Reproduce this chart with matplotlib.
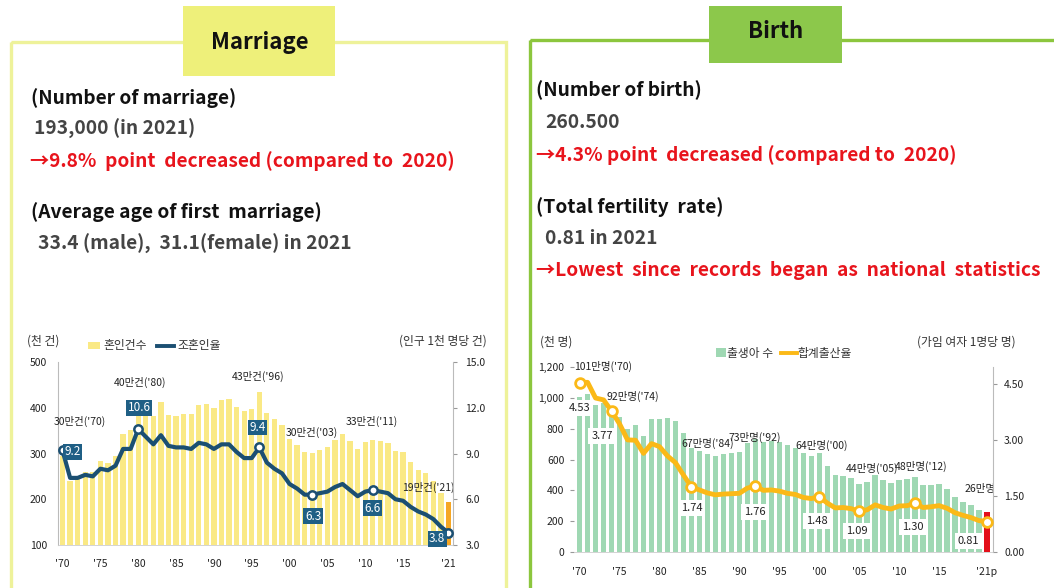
import numpy as np
import matplotlib
matplotlib.use("Agg")
import matplotlib.pyplot as plt
from matplotlib.patches import Rectangle
from matplotlib.lines import Line2D

plt.rcParams["font.family"] = ["Noto Sans CJK KR", "DejaVu Sans"]

# ---- data ----
years = list(range(1970, 2022))

marriages = [295, 239, 244, 259, 260, 283, 280, 295, 343, 351,
             403, 392, 382, 412, 384, 382, 386, 386, 407, 409,
             399, 416, 419, 402, 393, 398, 434, 389, 375, 362,
             332, 318, 304, 302, 308, 314, 330, 343, 327, 309,
             326, 329, 327, 323, 305, 303, 282, 264, 258, 239,
             214, 193]
marriage_rate = [9.2, 7.4, 7.4, 7.6, 7.5, 8.0, 7.9, 8.2, 9.3, 9.3,
                 10.6, 10.1, 9.6, 10.2, 9.5, 9.4, 9.4, 9.3, 9.7, 9.6,
                 9.3, 9.6, 9.6, 9.1, 8.7, 8.7, 9.4, 8.4, 8.0, 7.7,
                 7.0, 6.7, 6.3, 6.3, 6.4, 6.5, 6.8, 7.0, 6.6, 6.2,
                 6.5, 6.6, 6.5, 6.4, 6.0, 5.9, 5.5, 5.2, 5.0, 4.7,
                 4.2, 3.8]

births = [1007, 1025, 953, 966, 923, 875, 797, 826, 751, 863,
          863, 868, 849, 770, 675, 655, 636, 624, 634, 640,
          650, 709, 731, 716, 721, 715, 691, 675, 641, 621,
          640, 560, 497, 495, 477, 438, 451, 497, 466, 445,
          470, 471, 485, 437, 435, 438, 406, 358, 327, 303,
          272, 261]
tfr = [4.53, 4.54, 4.12, 4.07, 3.77, 3.43, 3.00, 2.99, 2.64, 2.90,
       2.82, 2.57, 2.39, 2.06, 1.74, 1.66, 1.58, 1.53, 1.55, 1.56,
       1.57, 1.71, 1.76, 1.65, 1.66, 1.63, 1.57, 1.54, 1.46, 1.43,
       1.48, 1.31, 1.18, 1.19, 1.16, 1.09, 1.13, 1.26, 1.19, 1.15,
       1.23, 1.24, 1.30, 1.19, 1.21, 1.24, 1.17, 1.05, 0.98, 0.92,
       0.84, 0.81]

m_tick_years = [1970, 1975, 1980, 1985, 1990, 1995, 2000, 2005, 2010, 2015, 2021]
m_tick_labels = ["'70", "'75", "'80", "'85", "'90", "'95", "'00", "'05", "'10", "'15", "'21"]
b_tick_labels = ["'70", "'75", "'80", "'85", "'90", "'95", "'00", "'05", "'10", "'15", "'21p"]

# marked points + labels
m_mark_years = [1970, 1980, 1996, 2003, 2011, 2021]
m_rate_labels = ["9.2", "10.6", "9.4", "6.3", "6.6", "3.8"]
m_rate_pos = [(1971.3, 9.1), (1980.1, 12.0), (1995.8, 10.7), (2003.1, 4.9), (2011.0, 5.4), (2019.5, 3.4)]
m_count_labels = ["30만건('70)", "40만건('80)", "43만건('96)", "30만건('03)", "33만건('11)", "19만건('21)"]
m_count_pos = [(1972.3, 371), (1980.2, 456), (1995.8, 469), (2003.0, 345), (2010.9, 369), (2018.3, 225)]

b_mark_years = [1970, 1974, 1984, 1992, 2000, 2005, 2012, 2021]
b_tfr_labels = ["4.53", "3.77", "1.74", "1.76", "1.48", "1.09", "1.30", "0.81"]
b_tfr_pos = [(1970.0, 3.85), (1972.8, 3.10), (1984.0, 1.18), (1991.9, 1.07),
             (1999.7, 0.83), (2004.7, 0.56), (2011.7, 0.67), (2018.7, 0.29)]
b_count_labels = ["101만명('70)", "92만명('74)", "67만명('84)", "73만명('92)",
                  "64만명('00)", "44만명('05)", "48만명('12)", "26만명"]
b_count_pos = [(1972.9, 1206), (1976.6, 1012), (1986.0, 707), (1991.9, 746),
               (2000.3, 688), (2006.6, 545), (2012.7, 558), (2020.1, 409)]

# ---- colours ----
M_BORDER = "#eef29a"
M_BOX = "#eef07a"
B_BORDER = "#8cc63e"
B_BOX = "#8cc84b"
M_BAR = "#fae985"
M_BAR_LAST = "#f5a623"
M_LINE = "#1b4f72"
B_BAR = "#9fd8b3"
B_BAR_LAST = "#e3101a"
B_LINE = "#fbb917"
RED = "#e8141c"
GRAY = "#444444"

W, H = 1054, 588
fig = plt.figure(figsize=(W / 100, H / 100), dpi=100)
fig.patch.set_facecolor("white")

# background layer in pixel coordinates
bg = fig.add_axes([0, 0, 1, 1])
bg.set_xlim(0, W)
bg.set_ylim(H, 0)
bg.axis("off")
bg.set_zorder(-1)

bg.add_patch(Rectangle((11, 42), 495, 600, fill=False, ec=M_BORDER, lw=2.4))
bg.add_patch(Rectangle((183, 6), 152, 70, fc=M_BOX, ec="none"))
bg.text(260, 42, "Marriage", ha="center", va="center", fontsize=16, fontweight="bold", color="#111111")

bg.add_patch(Rectangle((530, 40), 560, 600, fill=False, ec=B_BORDER, lw=2.4))
bg.add_patch(Rectangle((709, 6), 133, 57, fc=B_BOX, ec="none"))
bg.text(776, 31, "Birth", ha="center", va="center", fontsize=16, fontweight="bold", color="#111111")

fs = 13.8
bg.text(31, 98, "(Number of marriage)", va="center", fontsize=fs, fontweight="bold", color="#111111")
bg.text(34, 129, "193,000 (in 2021)", va="center", fontsize=fs, fontweight="bold", color=GRAY)
bg.text(30, 161, "→9.8%  point  decreased (compared to  2020)", va="center", fontsize=fs, fontweight="bold", color=RED)
bg.text(31, 212, "(Average age of first  marriage)", va="center", fontsize=fs, fontweight="bold", color="#111111")
bg.text(38, 244, "33.4 (male),  31.1(female) in 2021", va="center", fontsize=fs, fontweight="bold", color=GRAY)

bg.text(536, 90, "(Number of birth)", va="center", fontsize=fs, fontweight="bold", color="#111111")
bg.text(545, 122, "260.500", va="center", fontsize=fs, fontweight="bold", color=GRAY)
bg.text(536, 155, "→4.3% point  decreased (compared to  2020)", va="center", fontsize=fs, fontweight="bold", color=RED)
bg.text(536, 207, "(Total fertility  rate)", va="center", fontsize=fs, fontweight="bold", color="#111111")
bg.text(545, 238, "0.81 in 2021", va="center", fontsize=fs, fontweight="bold", color=GRAY)
bg.text(536, 270, "→Lowest  since  records  began  as  national  statistics", va="center",
        fontsize=fs, fontweight="bold", color=RED)

# chart headers / legends
small = 8.5
bg.text(27, 341, "(천 건)", va="center", fontsize=small, color="#333333")
bg.add_patch(Rectangle((88, 342), 12, 7, fc=M_BAR, ec="none"))
bg.text(103, 346, "혼인건수", va="center", fontsize=small, color="#333333")
bg.add_line(Line2D([157, 174], [346, 346], color=M_LINE, lw=2.8))
bg.text(177, 346, "조혼인율", va="center", fontsize=small, color="#333333")
bg.text(487, 341, "(인구 1천 명당 건)", ha="right", va="center", fontsize=small, color="#333333")

bg.text(540, 342, "(천 명)", va="center", fontsize=small, color="#333333")
bg.add_patch(Rectangle((716, 348), 10, 9, fc=B_BAR, ec="none"))
bg.text(727, 353, "출생아 수", va="center", fontsize=small, color="#333333")
bg.add_line(Line2D([781, 797], [353, 353], color=B_LINE, lw=2.8))
bg.text(797, 353, "합계출산율", va="center", fontsize=small, color="#333333")
bg.text(1016, 342, "(가임 여자 1명당 명)", ha="right", va="center", fontsize=small, color="#333333")

tick_kw = dict(labelsize=7.5, colors="#222222")

# ---- marriage chart ----
ax1 = fig.add_axes([58 / W, 1 - 545 / H, (453 - 58) / W, (545 - 362) / H])
ax1.set_facecolor("none")
m_colors = [M_BAR] * (len(years) - 1) + [M_BAR_LAST]
ax1.bar(years, marriages, width=0.7, color=m_colors, zorder=1)
ax1.set_xlim(1969.4, 2021.6)
ax1.set_ylim(100, 500)
ax1.set_yticks([100, 200, 300, 400, 500])
ax1.set_xticks(m_tick_years)
ax1.set_xticklabels(m_tick_labels)
ax1.tick_params(axis="y", length=0, pad=8, **tick_kw)
ax1.tick_params(axis="x", length=0, pad=10, **tick_kw)
for s in ["top", "right"]:
    ax1.spines[s].set_visible(False)
ax1.spines["left"].set_color("#bbbbbb")
ax1.spines["bottom"].set_color("#cccccc")
ax1.spines["left"].set_linewidth(0.8)
ax1.spines["bottom"].set_linewidth(0.6)

for lbl, (x, y) in zip(m_count_labels, m_count_pos):
    ax1.text(x, y, lbl, ha="center", va="center", fontsize=7.5, color="#222222", zorder=5)

ax1b = ax1.twinx()
ax1b.set_ylim(3.0, 15.0)
ax1b.set_yticks([3.0, 6.0, 9.0, 12.0, 15.0])
ax1b.set_yticklabels(["3.0", "6.0", "9.0", "12.0", "15.0"])
ax1b.tick_params(axis="y", length=3, pad=6, color="#999999", **tick_kw)
for s in ["top", "left", "bottom"]:
    ax1b.spines[s].set_visible(False)
ax1b.spines["right"].set_color("#bbbbbb")
ax1b.spines["right"].set_linewidth(0.8)
ax1b.plot(years, marriage_rate, color=M_LINE, lw=3, zorder=3, solid_capstyle="round")
m_idx = [years.index(y) for y in m_mark_years]
ax1b.plot(m_mark_years, [marriage_rate[i] for i in m_idx], "o", ms=6, mfc="white",
          mec=M_LINE, mew=1.8, zorder=4)
for lbl, (x, y) in zip(m_rate_labels, m_rate_pos):
    ax1b.text(x, y, lbl, ha="center", va="center", fontsize=8.5, color="white", zorder=6,
              bbox=dict(boxstyle="square,pad=0.12", fc="#1f5f85", ec="none"))

# ---- birth chart ----
ax2 = fig.add_axes([574 / W, 1 - 552 / H, (993 - 574) / W, (552 - 367) / H])
ax2.set_facecolor("none")
b_colors = [B_BAR] * (len(years) - 1) + [B_BAR_LAST]
ax2.bar(years, births, width=0.68, color=b_colors, zorder=1)
ax2.set_xlim(1969.3, 2021.75)
ax2.set_ylim(0, 1200)
ax2.set_yticks([0, 200, 400, 600, 800, 1000, 1200])
ax2.set_yticklabels(["0", "200", "400", "600", "800", "1,000", "1,200"])
ax2.set_xticks(m_tick_years)
ax2.set_xticklabels(b_tick_labels)
ax2.tick_params(axis="y", length=3, pad=4, color="#999999", **tick_kw)
ax2.tick_params(axis="x", length=0, pad=11, **tick_kw)
for s in ["top", "right", "left"]:
    ax2.spines[s].set_visible(False)
ax2.spines["bottom"].set_color("#cccccc")
ax2.spines["bottom"].set_linewidth(0.6)

for lbl, (x, y) in zip(b_count_labels, b_count_pos):
    ax2.text(x, y, lbl, ha="center", va="center", fontsize=7.5, color="#222222", zorder=5, clip_on=False)

ax2b = ax2.twinx()
ax2b.set_ylim(0, 4.95)
ax2b.set_yticks([0.0, 1.5, 3.0, 4.5])
ax2b.set_yticklabels(["0.00", "1.50", "3.00", "4.50"])
ax2b.tick_params(axis="y", length=3, pad=5, color="#999999", **tick_kw)
for s in ["top", "left", "bottom"]:
    ax2b.spines[s].set_visible(False)
ax2b.spines["right"].set_color("#bbbbbb")
ax2b.spines["right"].set_linewidth(0.8)
ax2b.plot(years, tfr, color=B_LINE, lw=3.5, zorder=3, solid_capstyle="round")
b_idx = [years.index(y) for y in b_mark_years]
ax2b.plot(b_mark_years, [tfr[i] for i in b_idx], "o", ms=7, mfc="white",
          mec=B_LINE, mew=2, zorder=4)
for lbl, (x, y) in zip(b_tfr_labels, b_tfr_pos):
    ax2b.text(x, y, lbl, ha="center", va="center", fontsize=8, color="#222222", zorder=6,
              bbox=dict(boxstyle="square,pad=0.25", fc="white", ec="none"))

plt.savefig("out.png", dpi=100)
